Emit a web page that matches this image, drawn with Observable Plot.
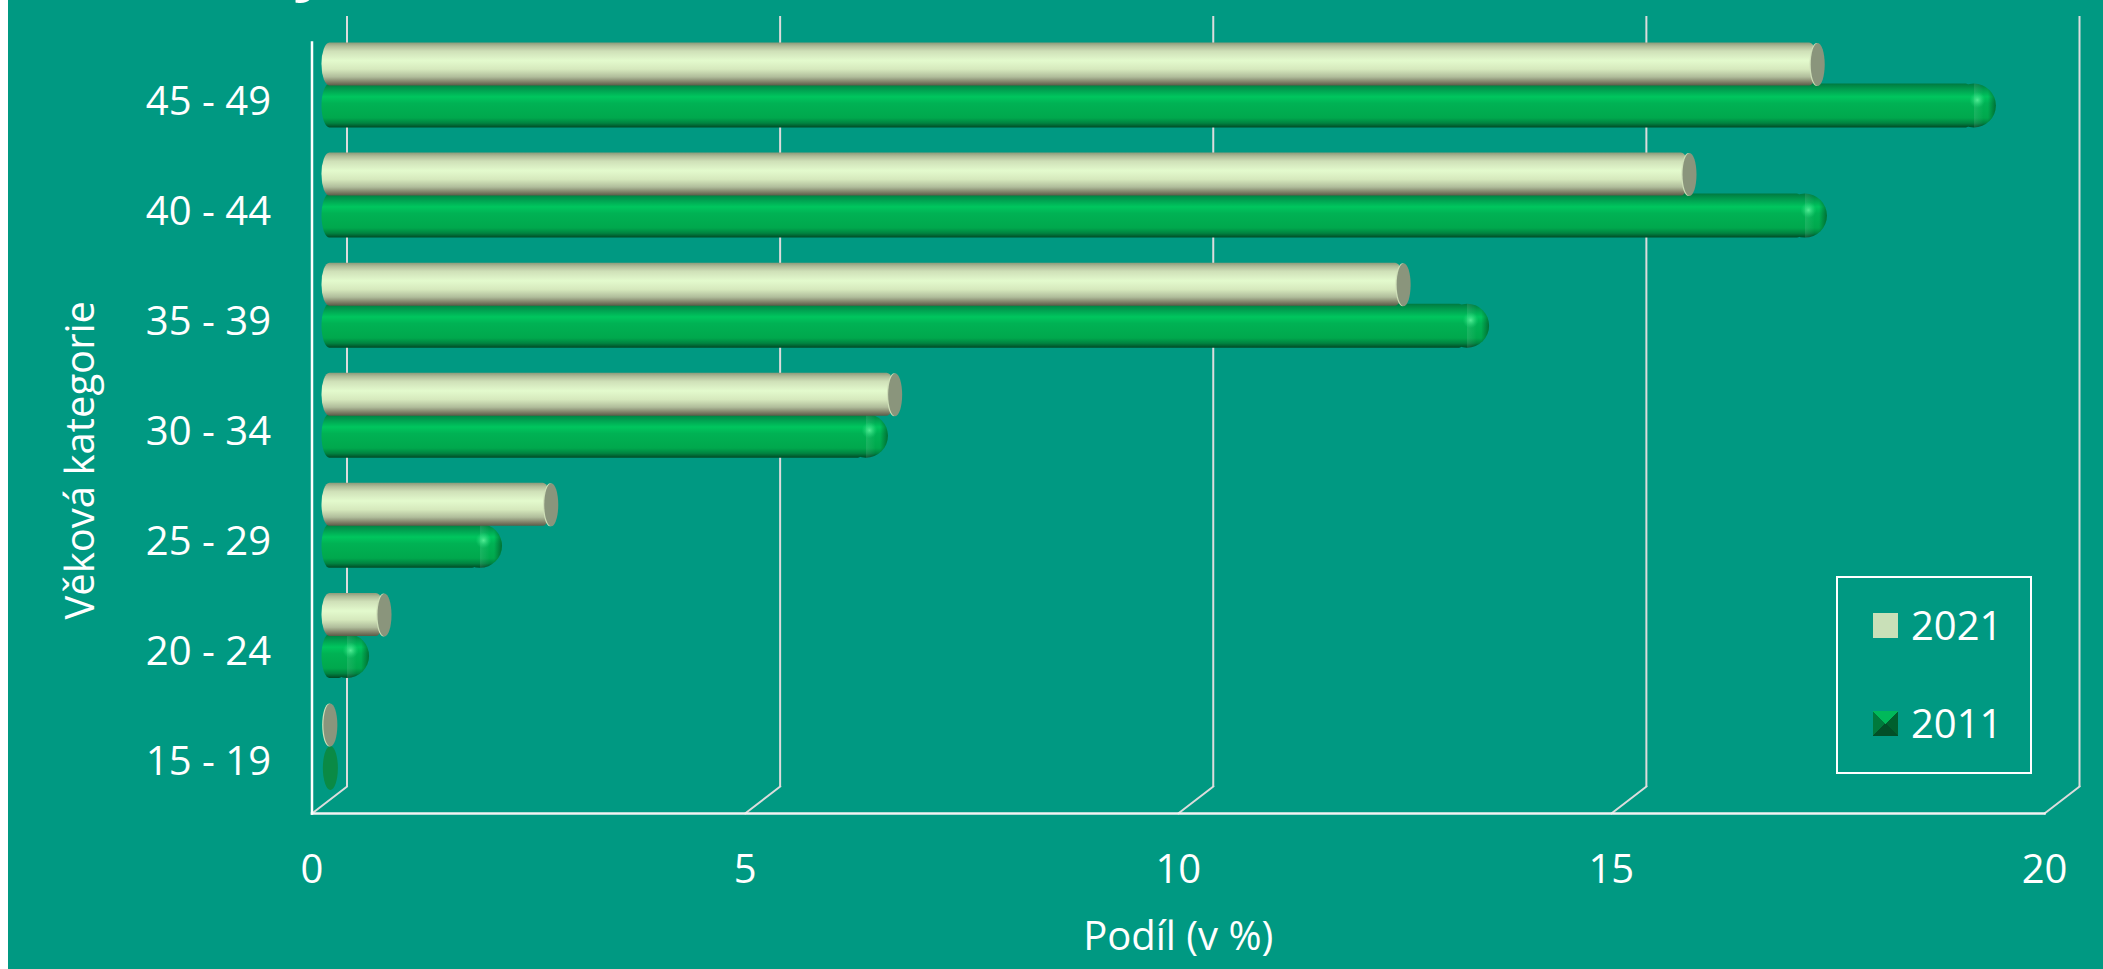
<!DOCTYPE html>
<html lang="cs">
<head>
<meta charset="utf-8">
<script src="https://cdn.jsdelivr.net/npm/d3@7"></script>
<script src="https://cdn.jsdelivr.net/npm/@observablehq/plot@0.6"></script>
<style>
  html,body{margin:0;padding:0;background:#fff;overflow:hidden;}
  #page{position:relative;width:2103px;height:969px;overflow:hidden;font-family:"Open Sans",sans-serif;color:#fff;
        background:linear-gradient(to right,#fff 8px,#009982 8px);}
  #page svg{display:block;}
  #titlefrag{position:absolute;left:300px;top:-69px;font:italic 700 64px "Open Sans",sans-serif;line-height:64px;color:#fff;}
  #legend{position:absolute;left:1836px;top:576px;width:192px;height:194px;border:2px solid #fff;}
  .li{position:absolute;left:35px;display:flex;align-items:center;font-size:40px;line-height:50px;height:50px;}
  .sw{width:25px;height:25px;margin-right:13px;display:block;}
  .s21{background:#c9e0b8;}
  .s11{background:conic-gradient(#00b95a 0 12.5%,#00602e 12.5% 37.5%,#024f28 37.5% 62.5%,#007a3c 62.5% 87.5%,#00b95a 87.5% 100%);}
</style>
</head>
<body>
<div id="page">
  <div id="titlefrag">y</div>
  <div id="chart"></div>
  <div id="legend">
    <div class="li" style="top:22px"><span class="sw s21"></span>2021</div>
    <div class="li" style="top:120px"><span class="sw s11"></span>2011</div>
  </div>
</div>
<script>
const ages = ["45 - 49","40 - 44","35 - 39","30 - 34","25 - 29","20 - 24","15 - 19"];
const values2021 = [17.18,15.7,12.4,6.53,2.56,0.635,0.01];
const values2011 = [19.15,17.2,13.3,6.36,1.905,0.37,0.01];
const xTicks = [0,5,10,15,20];

const rows = name => (name==="2021"?values2021:values2011).map((v,i)=>({age:ages[i],v}));
const d21 = rows("2021");
const d11 = rows("2011");
const big11 = d11.filter(d=>d.v>=0.1);
const tiny11 = d11.filter(d=>d.v<0.1);
const big21 = d21.filter(d=>d.v>=0.1);

const ellipse = (rx,ry)=>({draw(c){
  const k=0.5523;
  c.moveTo(rx,0);
  c.bezierCurveTo(rx,ry*k,rx*k,ry,0,ry);
  c.bezierCurveTo(-rx*k,ry,-rx,ry*k,-rx,0);
  c.bezierCurveTo(-rx,-ry*k,-rx*k,-ry,0,-ry);
  c.bezierCurveTo(rx*k,-ry,rx,-ry*k,rx,0);
  c.closePath();
}});
const diag = {draw(c,l){c.moveTo(0,0);c.lineTo(0,-l);}};

function defs(){
  const grad=(id,stops,attrs={x1:0,y1:0,x2:0,y2:1})=>{
    let s=`<linearGradient id="${id}" x1="${attrs.x1}" y1="${attrs.y1}" x2="${attrs.x2}" y2="${attrs.y2}">`;
    for(const [o,c,a] of stops) s+=`<stop offset="${o}" stop-color="${c}" stop-opacity="${a??1}"/>`;
    return s+"</linearGradient>";
  };
  const el=document.createElementNS("http://www.w3.org/2000/svg","defs");
  el.innerHTML=
    grad("g21",[[0,"#8c9a7a"],[.08,"#aebc98"],[.2,"#cfe0b8"],[.42,"#e3facd"],[.62,"#d6e9bd"],[.8,"#b0bd9b"],[.92,"#7f8068"],[1,"#5c5c48"]])+
    grad("g11",[[0,"#007a40"],[.12,"#009a4e"],[.3,"#00c65e"],[.45,"#00b254"],[.78,"#00a84d"],[.9,"#008340"],[1,"#004a26"]])+
    grad("shade",[[0,"#ffffff",0],[.5,"#ffffff",0],[.5,"#ffffff",.1],[.72,"#ffffff",0],[.82,"#003018",0],[1,"#003018",.5]],{x1:0,y1:0,x2:1,y2:0})+
    `<radialGradient id="glint"><stop offset="0" stop-color="#5cf09a" stop-opacity=".9"/><stop offset="1" stop-color="#20d878" stop-opacity="0"/></radialGradient>`;
  return el;
}

const half = 55.05;
const dep = 17.5;
const chart = Plot.plot({
  width:2103, height:969,
  marginLeft:311.5, marginRight:59, marginTop:30.5, marginBottom:168,
  style:{background:"transparent",fontFamily:'"Open Sans",sans-serif',color:"#fff",overflow:"hidden"},
  x:{domain:[0,20]},
  y:{type:"band",domain:ages,padding:0,round:false},
  marks:[
    defs,
    // chart box: back wall ticks, depth diagonals, floor, front axis
    Plot.ruleX(xTicks,{x:d=>d,dx:35,insetTop:-14.5,insetBottom:14,stroke:"#dcdcdc",strokeWidth:2}),
    Plot.vector(xTicks,{x:d=>d,frameAnchor:"bottom",anchor:"start",rotate:52.4,length:44.3,dy:12,shape:diag,stroke:"#dcdcdc",strokeWidth:2}),
    Plot.frame({anchor:"bottom",dy:12,stroke:"#f2f2f2",strokeWidth:2.5}),
    Plot.frame({anchor:"left",insetTop:11.5,insetBottom:-12,stroke:"#fff",strokeWidth:2.5}),
    Plot.axisX(xTicks,{anchor:"bottom",tickSize:0,tickPadding:53,fontSize:40,fill:"#fff",label:null,tickFormat:d=>String(d)}),
    Plot.axisY({anchor:"left",tickSize:0,tickPadding:41,fontSize:40,fill:"#fff",label:null,dy:16}),
    Plot.text(["Podíl (v %)"],{frameAnchor:"bottom",dy:148,fontSize:40,fill:"#fff"}),
    Plot.text(["Věková kategorie"],{frameAnchor:"left",textAnchor:"middle",rotate:-90,dx:-231,dy:44,fontSize:40,fill:"#fff"}),

    // 2011 series: cylinders with rounded end (behind the 2021 series)
    Plot.barX(big11,{x1:()=>0,x2:"v",y:"age",dx:dep,insetLeft:-7.5,insetRight:14,insetTop:half-2,insetBottom:half-42,rx:8,ry:22,fill:"url(#g11)"}),
    Plot.barX(big11,{x1:"v",x2:"v",y:"age",insetLeft:-18.5,insetRight:-25.5,insetTop:half-2,insetBottom:half-42,rx:22,ry:22,fill:"url(#g11)"}),
    Plot.barX(big11,{x1:"v",x2:"v",y:"age",insetLeft:-18.5,insetRight:-25.5,insetTop:half-2,insetBottom:half-42,rx:22,ry:22,fill:"url(#shade)"}),
    Plot.dot(big11,{x:"v",y:"age",dx:6.5,dy:14,r:8,fill:"url(#glint)"}),
    Plot.dot(tiny11,{x:"v",y:"age",dx:dep,dy:21.5,symbol:ellipse(7.5,22),fill:"#0a8a45"}),

    // 2021 series: cylinders with flat elliptic cap
    Plot.barX(big21,{x1:()=>0,x2:"v",y:"age",dx:dep,insetLeft:-7.5,insetRight:0,insetTop:half-43,insetBottom:half,rx:8,ry:21,fill:"url(#g21)"}),
    Plot.dot(d21,{x:"v",y:"age",dx:dep-1.2,dy:-21.5,symbol:ellipse(7,21.5),fill:"#cfe0b8"}),
    Plot.dot(d21,{x:"v",y:"age",dx:dep,dy:-21.5,symbol:ellipse(7,21.5),fill:"#8a957c"})
  ]
});
document.getElementById("chart").append(chart);
</script>
</body>
</html>
